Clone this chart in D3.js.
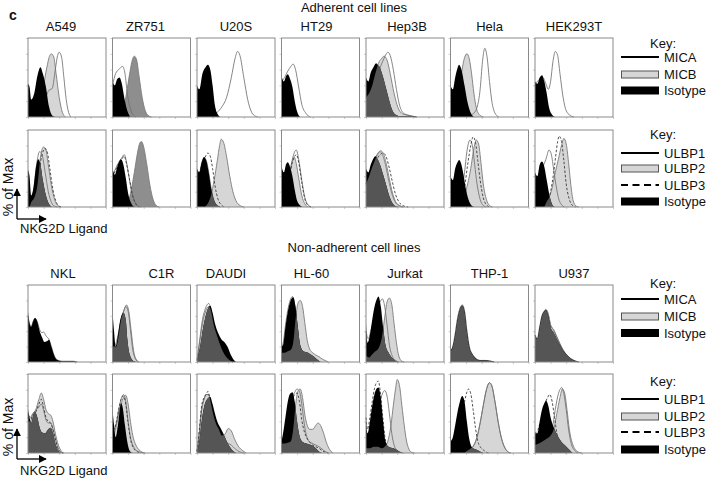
<!DOCTYPE html>
<html>
<head>
<meta charset="utf-8">
<script src="https://cdn.jsdelivr.net/npm/d3@7"></script>
<style>
  body { margin: 0; background: #fff; }
  text { font-family: "Liberation Sans", Arial, sans-serif; fill: #111; }
</style>
</head>
<body>
<svg id="fig" width="708" height="481"></svg>
<script>
// cell lines
var adherentLines = ["A549", "ZR751", "U20S", "HT29", "Hep3B", "Hela", "HEK293T"];
var nonAdherentLines = ["NKL", "C1R", "DAUDI", "HL-60", "Jurkat", "THP-1", "U937"];

// histograms: [% of panel width, % of max]
// adherent, MICA / MICB row
var adhMicaIso = [
  [[0,42],[2,38],[4,22],[8,30],[12,52],[16,63],[19,55],[23,38],[27,13],[31,2],[35,0]],
  [[0,45],[3,40],[6,48],[9,50],[12,42],[15,25],[19,8],[23,0]],
  [[0,40],[3,35],[7,55],[11,63],[14,66],[17,60],[20,40],[23,15],[27,3],[30,0]],
  [[0,52],[3,45],[6,52],[8,54],[11,48],[14,38],[17,20],[20,7],[24,0]],
  [[0,50],[3,45],[6,56],[9,62],[13,68],[15,66],[18,62],[22,50],[26,35],[30,20],[34,8],[38,3],[45,1],[60,1],[65,0]],
  [[0,40],[3,35],[6,50],[9,62],[11,66],[14,60],[18,40],[22,18],[26,5],[30,0]],
  [[0,45],[3,42],[6,50],[9,53],[12,45],[15,30],[18,12],[22,3],[26,0]]
];
var adhMica = [
  [[14,0],[18,8],[22,22],[27,34],[31,36],[35,60],[38,78],[40,82],[43,76],[46,50],[49,22],[52,6],[55,0]],
  [[0,40],[4,55],[8,60],[13,64],[16,55],[19,30],[23,10],[27,2],[30,0]],
  [[18,0],[20,2],[26,6],[32,13],[38,25],[44,50],[49,75],[52,83],[55,78],[60,50],[65,22],[70,6],[75,1],[78,0]],
  [[0,45],[4,50],[8,58],[12,64],[15,67],[18,60],[22,38],[26,16],[31,5],[37,0]],
  [[0,20],[5,25],[12,40],[18,62],[23,74],[26,80],[28,82],[31,78],[35,60],[39,35],[43,15],[48,5],[55,2],[65,0]],
  [[24,0],[26,2],[30,5],[34,12],[38,35],[41,70],[44,87],[47,75],[50,45],[53,20],[57,5],[62,0]],
  [[0,40],[3,45],[6,48],[10,50],[14,42],[17,35],[20,45],[23,70],[26,83],[29,78],[32,55],[36,25],[40,8],[45,2],[50,0]]
];
var adhMicb = [
  [[12,0],[14,10],[20,40],[24,62],[28,78],[30,80],[33,76],[36,55],[40,25],[44,6],[48,0]],
  [[10,0],[14,8],[18,30],[22,55],[26,74],[28,77],[31,72],[34,52],[38,25],[42,8],[47,1],[50,0]],
  [],
  [],
  [[0,25],[4,30],[8,40],[12,55],[16,68],[20,74],[23,77],[27,72],[31,55],[36,30],[41,12],[47,4],[55,2],[65,0]],
  [[3,0],[5,5],[10,30],[14,55],[18,75],[21,80],[24,74],[27,55],[30,30],[33,12],[37,3],[42,0]],
  []
];

// adherent, ULBP row
var adhUlbpIso = [
  [[0,48],[2,40],[4,15],[7,25],[10,50],[13,62],[16,55],[19,35],[23,15],[27,4],[31,0]],
  [[0,50],[3,42],[6,52],[9,60],[11,62],[14,55],[17,38],[20,18],[24,5],[28,0]],
  [[0,50],[3,45],[6,58],[9,65],[12,60],[15,45],[18,25],[22,8],[26,2],[30,0]],
  [[0,53],[3,45],[6,56],[8,58],[11,52],[14,40],[17,22],[20,8],[24,2],[27,0]],
  [[0,50],[3,45],[6,55],[9,62],[12,66],[15,62],[18,55],[22,42],[26,28],[30,14],[34,5],[38,1],[42,0]],
  [[0,40],[3,35],[6,50],[9,58],[11,61],[14,55],[17,40],[20,22],[24,7],[28,1],[31,0]],
  [[0,45],[3,40],[6,55],[9,59],[12,52],[15,35],[18,18],[21,6],[25,0]]
];
var adhUlbp1 = [
  [[2,0],[3,5],[7,20],[11,55],[15,72],[18,68],[22,45],[26,20],[30,6],[34,1],[38,0]],
  [[0,40],[4,50],[8,58],[12,64],[15,68],[18,58],[21,40],[25,18],[29,6],[33,1],[37,0]],
  [[0,48],[3,44],[6,57],[9,64],[12,60],[15,45],[18,25],[22,8],[26,2],[30,0]],
  [[4,0],[6,15],[10,40],[14,62],[17,72],[19,74],[22,62],[26,35],[30,12],[34,3],[38,0]],
  [[0,30],[4,42],[8,54],[12,64],[16,71],[19,73],[22,70],[26,56],[30,36],[34,18],[38,7],[43,2],[48,0]],
  [[8,0],[10,5],[14,20],[18,45],[21,72],[25,87],[28,80],[31,55],[34,30],[38,10],[42,2],[46,0]],
  [[0,30],[2,30],[6,45],[10,52],[14,62],[18,74],[21,68],[24,48],[27,28],[30,12],[34,3],[38,0]]
];
var adhUlbp2 = [
  [[2,0],[4,6],[8,12],[12,28],[16,65],[20,78],[23,74],[26,55],[30,28],[34,10],[38,2],[42,0]],
  [[16,0],[20,6],[24,22],[28,45],[32,70],[35,83],[37,85],[40,78],[44,55],[48,28],[52,10],[56,2],[60,0]],
  [[10,0],[14,5],[18,15],[22,35],[26,60],[29,80],[31,88],[34,84],[38,65],[42,40],[46,20],[50,8],[55,2],[60,0]],
  [[5,0],[8,15],[11,45],[14,60],[16,65],[19,56],[22,38],[26,15],[30,4],[34,0]],
  [[0,30],[4,40],[8,52],[12,62],[16,70],[18,72],[21,68],[25,55],[29,35],[33,18],[37,7],[42,2],[47,0]],
  [[12,0],[14,5],[18,15],[22,30],[26,50],[29,70],[33,87],[36,82],[39,58],[42,30],[46,10],[50,2],[54,0]],
  [[12,0],[14,5],[18,12],[22,25],[26,45],[30,62],[34,80],[37,89],[40,82],[43,58],[46,28],[49,8],[53,1],[56,0]]
];
var adhUlbp3 = [
  [[4,0],[6,5],[10,20],[14,45],[18,68],[22,76],[25,70],[28,50],[32,22],[36,7],[40,1],[44,0]],
  [[0,38],[4,48],[8,56],[12,62],[15,66],[18,56],[22,35],[26,14],[30,4],[34,0]],
  [[0,40],[2,40],[6,55],[10,64],[14,70],[17,66],[20,50],[23,28],[27,10],[31,3],[35,0]],
  [[4,0],[6,12],[10,38],[14,58],[17,66],[19,68],[22,58],[26,32],[30,10],[34,2],[38,0]],
  [[0,28],[5,40],[10,52],[14,62],[18,68],[22,70],[26,65],[30,50],[34,32],[38,16],[42,7],[47,2],[54,0]],
  [[12,0],[14,5],[18,25],[22,55],[26,80],[29,91],[32,84],[35,60],[38,35],[42,12],[46,3],[50,0]],
  [[14,0],[16,5],[20,20],[24,45],[27,70],[29,85],[31,92],[34,85],[37,60],[40,30],[44,10],[48,2],[52,0]]
];

// non-adherent, MICA / MICB row
var nonMicaIso = [
  [[0,65],[2,50],[4,46],[7,54],[9,57],[12,52],[15,40],[18,32],[21,26],[24,27],[27,29],[30,20],[33,10],[37,3],[45,1],[58,1],[63,0]],
  [[0,66],[2,40],[4,20],[7,35],[10,55],[14,64],[17,55],[19,30],[22,10],[26,2],[30,0]],
  [[0,2],[4,20],[8,45],[12,63],[17,73],[20,64],[23,50],[27,38],[31,30],[35,26],[39,20],[43,10],[47,3],[50,0]],
  [[0,20],[2,22],[5,45],[8,65],[11,78],[15,84],[18,72],[21,45],[24,22],[28,14],[34,12],[40,8],[45,4],[50,0]],
  [[0,50],[2,25],[5,35],[8,55],[11,72],[14,82],[16,85],[19,72],[22,45],[25,22],[29,12],[33,6],[37,2],[41,0]],
  [[0,15],[3,20],[6,35],[9,55],[12,68],[15,73],[18,65],[21,40],[24,20],[28,10],[32,5],[38,2],[45,2],[52,1],[56,0]],
  [[0,35],[3,30],[6,45],[9,60],[12,66],[14,68],[17,60],[20,45],[24,38],[28,30],[32,22],[36,15],[40,10],[45,5],[50,2],[56,0]]
];
var nonMica = [
  [[0,60],[2,50],[4,46],[7,54],[9,57],[12,52],[15,42],[18,38],[20,39],[23,34],[27,29],[30,20],[33,10],[37,3],[45,1],[58,1],[63,0]],
  [[0,20],[2,20],[6,30],[10,50],[14,65],[17,72],[20,66],[23,42],[26,16],[29,5],[33,0]],
  [[0,2],[3,25],[7,55],[11,70],[15,76],[18,68],[21,52],[25,38],[29,26],[33,15],[37,8],[41,3],[46,0]],
  [[0,20],[2,24],[5,47],[8,67],[11,80],[14,85],[17,74],[20,48],[23,22],[27,8],[31,2],[35,0]],
  [[0,40],[3,30],[6,40],[10,55],[14,68],[18,78],[21,82],[24,72],[27,48],[30,22],[34,7],[38,2],[42,0]],
  [[0,15],[3,20],[6,36],[9,56],[12,69],[15,74],[18,65],[21,40],[24,20],[28,10],[32,5],[38,2],[45,2],[52,1],[56,0]],
  [[0,35],[3,30],[6,45],[9,60],[12,66],[14,68],[17,62],[20,48],[24,42],[28,33],[32,24],[36,16],[40,10],[45,5],[50,2],[56,0]]
];
var nonMicb = [
  [],
  [[0,20],[2,20],[5,20],[8,35],[11,55],[14,65],[18,74],[21,65],[24,40],[27,15],[30,4],[34,0]],
  [[0,2],[3,22],[7,50],[11,66],[15,72],[18,66],[21,50],[25,36],[29,24],[33,14],[37,7],[41,3],[46,0]],
  [[0,12],[4,12],[8,14],[12,16],[15,25],[18,55],[21,76],[24,80],[27,72],[30,50],[33,28],[36,17],[40,12],[44,9],[48,7],[52,4],[56,2],[60,0]],
  [[0,8],[4,6],[8,10],[12,14],[16,18],[20,30],[24,58],[27,78],[30,83],[33,75],[36,50],[39,25],[42,8],[46,1],[49,0]],
  [[0,14],[3,20],[6,36],[9,56],[12,69],[15,74],[18,66],[21,40],[24,20],[28,10],[32,5],[38,2],[45,2],[52,1],[56,0]],
  [[0,35],[3,30],[6,45],[9,60],[12,66],[14,68],[17,62],[20,48],[24,41],[28,32],[32,23],[36,15],[40,10],[45,5],[50,2],[56,0]]
];

// non-adherent, ULBP row
var nonUlbpIso = [
  [[0,55],[2,45],[4,38],[7,48],[9,52],[12,45],[15,32],[18,26],[22,25],[26,30],[29,32],[32,25],[35,12],[38,4],[42,0]],
  [[0,55],[2,35],[4,20],[7,35],[11,63],[13,58],[16,35],[19,14],[22,3],[26,0]],
  [[0,2],[3,15],[6,40],[9,58],[13,68],[17,71],[20,62],[23,50],[26,40],[30,32],[34,24],[38,15],[42,8],[46,3],[50,0]],
  [[0,15],[2,25],[5,45],[8,65],[11,75],[14,77],[17,65],[20,40],[23,22],[27,14],[32,12],[38,10],[44,6],[48,2],[52,0]],
  [[0,45],[2,25],[5,40],[8,60],[11,75],[14,82],[16,83],[19,70],[22,40],[25,15],[29,8],[35,6],[41,3],[46,0]],
  [[0,15],[3,20],[6,35],[9,52],[12,65],[15,72],[18,65],[21,40],[24,18],[27,8],[31,5],[36,3],[42,0]],
  [[0,25],[3,25],[6,40],[9,55],[12,63],[14,66],[17,60],[20,45],[23,35],[26,28],[30,20],[34,14],[38,10],[43,5],[48,0]]
];
var nonUlbp1 = [
  [[0,50],[3,45],[6,50],[10,54],[14,58],[17,62],[20,54],[23,42],[26,38],[29,38],[32,30],[35,18],[38,7],[42,1],[45,0]],
  [[0,30],[2,30],[5,38],[8,55],[11,68],[14,74],[17,65],[20,40],[23,20],[27,8],[31,3],[36,1],[40,0]],
  [[0,2],[3,25],[6,55],[9,68],[12,74],[15,74],[18,62],[21,48],[24,36],[28,26],[32,18],[36,14],[40,12],[44,10],[48,6],[52,3],[56,1],[60,0]],
  [[0,15],[2,15],[6,35],[10,55],[14,70],[17,77],[20,81],[23,78],[26,62],[29,38],[32,22],[36,14],[40,12],[44,10],[48,8],[52,5],[56,2],[60,0]],
  [[0,20],[2,20],[6,25],[10,35],[14,50],[18,65],[21,75],[24,79],[27,72],[30,50],[33,25],[36,10],[40,3],[44,1],[48,0]],
  [[18,0],[20,2],[25,5],[30,10],[34,20],[38,38],[42,60],[46,80],[50,89],[53,85],[57,65],[61,40],[65,20],[69,8],[73,2],[77,0]],
  [[12,0],[14,5],[18,15],[22,30],[26,55],[30,75],[33,82],[34,83],[37,75],[40,55],[43,30],[47,10],[51,3],[55,0]]
];
var nonUlbp2 = [
  [[0,40],[3,40],[6,48],[10,55],[14,68],[17,76],[20,68],[23,55],[26,50],[29,48],[32,40],[35,25],[39,10],[43,2],[46,0]],
  [[0,25],[2,25],[5,35],[8,50],[11,62],[14,70],[17,73],[20,62],[23,40],[26,22],[30,10],[34,4],[38,1],[42,0]],
  [[0,2],[3,25],[6,55],[9,68],[12,74],[15,74],[18,62],[21,48],[24,38],[28,30],[32,22],[36,24],[40,31],[44,28],[48,18],[52,10],[56,5],[60,2],[63,0]],
  [[0,12],[4,12],[8,13],[12,15],[15,30],[18,60],[21,78],[24,81],[27,70],[30,48],[33,35],[36,30],[40,30],[44,35],[47,38],[50,35],[54,25],[58,12],[62,4],[66,0]],
  [[0,6],[5,6],[10,8],[15,8],[20,6],[24,8],[28,15],[32,35],[35,60],[38,82],[40,93],[43,85],[46,60],[49,35],[52,15],[55,5],[58,1],[62,0]],
  [[18,0],[20,2],[25,5],[30,10],[34,20],[38,38],[42,60],[46,80],[50,89],[53,85],[57,65],[61,40],[65,20],[69,8],[73,2],[77,0]],
  [[0,10],[5,12],[10,15],[15,18],[20,22],[24,30],[28,50],[32,70],[35,81],[38,76],[41,55],[44,30],[48,12],[52,4],[56,1],[60,0]]
];
var nonUlbp3 = [
  [[0,45],[3,42],[6,48],[10,52],[14,62],[17,68],[20,58],[23,45],[26,40],[29,38],[32,30],[35,18],[38,7],[42,1],[45,0]],
  [[0,30],[2,30],[5,40],[8,55],[11,68],[14,72],[17,62],[20,38],[23,18],[27,6],[31,2],[35,0]],
  [[0,2],[3,30],[6,60],[9,70],[12,75],[14,78],[17,65],[20,48],[24,35],[28,25],[32,17],[36,10],[40,5],[44,2],[48,0]],
  [[0,15],[2,15],[6,35],[10,55],[14,68],[17,74],[20,76],[23,65],[26,42],[29,28],[32,20],[36,14],[40,10],[44,8],[48,6],[52,3],[56,1],[60,0]],
  [[0,45],[2,30],[5,45],[8,65],[11,82],[14,90],[16,91],[18,80],[21,50],[24,22],[27,8],[31,2],[35,0]],
  [[4,0],[6,10],[10,25],[14,45],[18,65],[21,77],[23,81],[26,75],[29,55],[32,32],[35,15],[38,8],[42,4],[46,1],[50,0]],
  [[0,25],[4,30],[8,45],[12,60],[16,70],[19,74],[22,65],[25,45],[28,25],[31,10],[35,3],[40,0]]
];

// drawing options (not data)
var blendRows = [[0,0,0,0,1,0,0],[1,0,1,0,1,0,1],[0,1,1,1,1,1,1],[1,0,1,1,1,1,1]];
var midGrayPanels = ["ZR751"];
var labelShiftAdh = [-6, -6, 0, -4, 2, 0, 0];
var labelShiftNon = [-4, 10, -10, -9, 0, 0, 0];

var svg = d3.select("#fig");
var panelW = 78;
var colX = d3.scaleLinear().domain([0, 6]).range([28, 535]);
var rows = [
  { top: 38, h: 79 },
  { top: 130, h: 77 },
  { top: 285, h: 77 },
  { top: 374, h: 79 }
];

var clipId = 0;

function drawPanel(row, col, name, iso, solid, gray, dashed, blend) {
  var r = rows[row];
  var g = svg.append("g")
    .attr("transform", "translate(" + colX(col) + "," + r.top + ")");

  var x = d3.scaleLinear().domain([0, 100]).range([0, panelW]);
  var y = d3.scaleLinear().domain([0, 100]).range([r.h, 0]);

  var area = d3.area()
    .x(function(d) { return x(d[0]); })
    .y0(r.h)
    .y1(function(d) { return y(d[1]); })
    .curve(d3.curveMonotoneX);
  var line = d3.line()
    .x(function(d) { return x(d[0]); })
    .y(function(d) { return y(d[1]); })
    .curve(d3.curveMonotoneX);

  var fillCol = midGrayPanels.indexOf(name) >= 0 ? "#8e8e8e" : "#d6d6d6";

  if (gray.length) {
    g.append("path").attr("d", area(gray)).attr("fill", fillCol);
  }
  // outlines
  if (gray.length) {
    g.append("path").attr("d", line(gray))
      .attr("fill", "none").attr("stroke", "#7a7a7a").attr("stroke-width", 0.9);
  }
  if (solid.length) {
    g.append("path").attr("d", line(solid))
      .attr("fill", "none").attr("stroke", "#707070").attr("stroke-width", 0.85);
  }
  if (dashed && dashed.length) {
    g.append("path").attr("d", line(dashed))
      .attr("fill", "none").attr("stroke", "#3a3a3a").attr("stroke-width", 0.9)
      .attr("stroke-dasharray", "2.5,1.8");
  }

  // isotype
  g.append("path").attr("d", area(iso)).attr("fill", "#000");

  // where the isotype sits under the grey histogram it shows dark grey
  if (blend && gray.length) {
    var id = "ov" + (clipId++);
    g.append("clipPath").attr("id", id)
      .append("path").attr("d", area(gray));
    g.append("path").attr("d", area(iso))
      .attr("fill", "#555")
      .attr("clip-path", "url(#" + id + ")");
  }

  // axis ticks
  g.append("g")
    .attr("class", "tk")
    .call(d3.axisLeft(y).ticks(5).tickSize(2).tickFormat(""));
  g.append("g")
    .attr("class", "tk")
    .attr("transform", "translate(0," + r.h + ")")
    .call(d3.axisBottom(x).ticks(4).tickSize(2).tickFormat(""));
  g.selectAll(".tk .domain").remove();
  g.selectAll(".tk line").attr("stroke", "#aaa").attr("stroke-width", 0.6);

  g.append("rect")
    .attr("width", panelW).attr("height", r.h)
    .attr("fill", "none").attr("stroke", "#8a8a8a").attr("stroke-width", 1);
}

adherentLines.forEach(function(name, i) {
  drawPanel(0, i, name, adhMicaIso[i], adhMica[i], adhMicb[i], null, blendRows[0][i]);
  drawPanel(1, i, name, adhUlbpIso[i], adhUlbp1[i], adhUlbp2[i], adhUlbp3[i], blendRows[1][i]);
  svg.append("text")
    .attr("x", colX(i) + panelW / 2 + labelShiftAdh[i]).attr("y", 31)
    .attr("text-anchor", "middle").attr("font-size", 13).text(name);
});
nonAdherentLines.forEach(function(name, i) {
  drawPanel(2, i, name, nonMicaIso[i], nonMica[i], nonMicb[i], null, blendRows[2][i]);
  drawPanel(3, i, name, nonUlbpIso[i], nonUlbp1[i], nonUlbp2[i], nonUlbp3[i], blendRows[3][i]);
  svg.append("text")
    .attr("x", colX(i) + panelW / 2 + labelShiftNon[i]).attr("y", 278)
    .attr("text-anchor", "middle").attr("font-size", 13).text(name);
});

// titles
svg.append("text").attr("x", 9).attr("y", 20)
  .attr("font-size", 14).attr("font-weight", "bold").text("c");
svg.append("text").attr("x", 354).attr("y", 12)
  .attr("text-anchor", "middle").attr("font-size", 13).text("Adherent cell lines");
svg.append("text").attr("x", 354).attr("y", 252)
  .attr("text-anchor", "middle").attr("font-size", 13).text("Non-adherent cell lines");

// axis arrows
svg.append("defs").append("marker")
  .attr("id", "arr").attr("viewBox", "0 0 10 10")
  .attr("refX", 9).attr("refY", 5)
  .attr("markerWidth", 6).attr("markerHeight", 6)
  .attr("orient", "auto")
  .append("path").attr("d", "M0,0L10,5L0,10Z").attr("fill", "#000");

function axisArrows(y0, yLabel, yText) {
  svg.append("line").attr("x1", 17).attr("y1", y0).attr("x2", 17).attr("y2", y0 - 30)
    .attr("stroke", "#000").attr("stroke-width", 1.3).attr("marker-end", "url(#arr)");
  svg.append("line").attr("x1", 17).attr("y1", y0).attr("x2", 46).attr("y2", y0)
    .attr("stroke", "#000").attr("stroke-width", 1.3).attr("marker-end", "url(#arr)");
  svg.append("text")
    .attr("transform", "translate(13," + yLabel + ") rotate(-90)")
    .attr("text-anchor", "middle").attr("font-size", 14).text("% of Max");
  svg.append("text").attr("x", 20).attr("y", yText)
    .attr("font-size", 13).text("NKG2D Ligand");
}
axisArrows(219, 187, 233);
axisArrows(459, 427, 475);

// keys
var micaKey = [["line", "MICA"], ["box", "MICB"], ["iso", "Isotype"]];
var ulbpKey = [["line", "ULBP1"], ["box", "ULBP2"], ["dash", "ULBP3"], ["iso", "Isotype"]];
var keyLayout = [
  { key: 48, items: [57, 74.5, 90.5], entries: micaKey },
  { key: 139, items: [153, 168.5, 185, 201.5], entries: ulbpKey },
  { key: 288, items: [299, 316.5, 333], entries: micaKey },
  { key: 386, items: [399, 416.5, 432, 449.5], entries: ulbpKey }
];

keyLayout.forEach(function(k) {
  svg.append("text").attr("x", 663).attr("y", k.key)
    .attr("text-anchor", "middle").attr("font-size", 13).text("Key:");
  k.entries.forEach(function(e, j) {
    var yy = k.items[j];
    if (e[0] === "line" || e[0] === "dash") {
      svg.append("line").attr("x1", 621).attr("x2", 659).attr("y1", yy).attr("y2", yy)
        .attr("stroke", "#000").attr("stroke-width", 1.8)
        .attr("stroke-dasharray", e[0] === "dash" ? "7,4.5" : null);
    } else {
      svg.append("rect").attr("x", 621.5).attr("y", yy - 3.5)
        .attr("width", 37).attr("height", 7)
        .attr("fill", e[0] === "iso" ? "#000" : "#d6d6d6")
        .attr("stroke", e[0] === "iso" ? "#000" : "#555").attr("stroke-width", 1);
    }
    svg.append("text").attr("x", 664).attr("y", yy + 4.5)
      .attr("font-size", 13).text(e[1]);
  });
});
</script>
</body>
</html>
